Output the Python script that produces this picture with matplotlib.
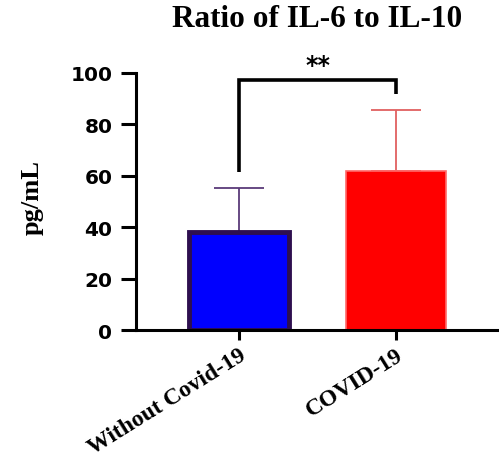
import matplotlib.pyplot as plt

groups = ['Without Covid-19', 'COVID-19']
means = [38.1, 61.9]
sds = [17.2, 23.7]
yticks = [0, 20, 40, 60, 80, 100]

bar_colors = ['#0000ff', '#ff0000']
edge_colors = ['#2e0f4f', '#ff6a6a']
err_colors = ['#5a3a7a', '#e06060']

fig = plt.figure(figsize=(4.99, 4.64), dpi=100)
ax = fig.add_axes([0.2725, 0.2866, 0.7275, 0.554])

x = list(range(len(groups)))
for i in x:
    ax.bar(i, means[i], width=0.64, color=bar_colors[i],
           edgecolor=edge_colors[i], linewidth=3.5 if i == 0 else 1.2, zorder=2)
    ax.errorbar(i, means[i], yerr=[[0], [sds[i]]], fmt='none',
                ecolor=err_colors[i], elinewidth=1.3, capsize=18,
                capthick=1.3, zorder=1)

# significance bracket
top = 97.3
ax.plot([x[0], x[0], x[1], x[1]], [61.5, top, top, 91.8],
        color='black', lw=2.6, clip_on=False, solid_capstyle='butt',
        solid_joinstyle='miter')
ax.text((x[0] + x[1]) / 2, 103, '**', ha='center', va='center',
        fontsize=17, fontweight='bold', family='DejaVu Sans')

ax.set_xlim(-0.656, 1.656)
ax.set_ylim(0, 100)
ax.set_yticks(yticks)
ax.set_yticklabels([str(t) for t in yticks], fontsize=14.5,
                   fontweight='bold', family='DejaVu Sans')
ax.set_xticks(x)
ax.set_xticklabels(groups, rotation=32, ha='right', va='top',
                   rotation_mode='anchor', fontsize=17, fontweight='bold',
                   family='Liberation Serif')

for side in ['top', 'right']:
    ax.spines[side].set_visible(False)
for side in ['left', 'bottom']:
    ax.spines[side].set_linewidth(2.2)
ax.tick_params(axis='y', length=11, width=2.2, pad=6)
ax.tick_params(axis='x', length=7, width=2.2, pad=3)

fig.text(0.635, 0.958, 'Ratio of IL-6 to IL-10', ha='center', va='center',
         fontsize=22.5, fontweight='bold', family='Liberation Serif')
fig.text(0.064, 0.575, 'pg/mL', rotation=90, ha='center', va='center',
         fontsize=19, fontweight='bold', family='Liberation Serif')

fig.savefig('out.png', dpi=100)
